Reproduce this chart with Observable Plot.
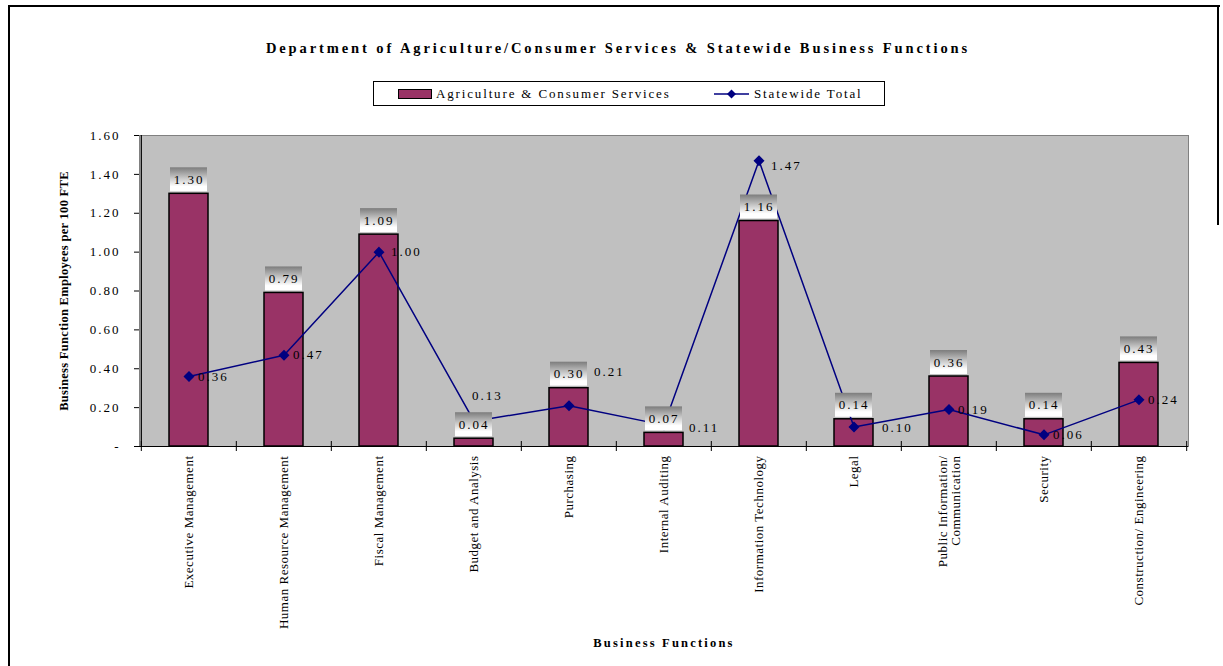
<!DOCTYPE html>
<html><head><meta charset="utf-8">
<script src="https://cdn.jsdelivr.net/npm/d3@7"></script>
<script src="https://cdn.jsdelivr.net/npm/@observablehq/plot@0.6"></script>
<style>
body{margin:0;background:#fff;font-family:"Liberation Serif",serif;}
#wrap{position:relative;width:1223px;height:666px;overflow:hidden;background:#fff;}
#border{position:absolute;left:8px;top:5px;width:1210px;height:700px;border-left:2px solid #000;border-top:2px solid #000;pointer-events:none;}
#rborder{position:absolute;left:1217px;top:5px;width:2px;height:220px;background:#000;}
#title{position:absolute;left:0;width:1236px;top:40px;text-align:center;font-weight:bold;font-size:14.5px;letter-spacing:2.9px;color:#000;white-space:nowrap;}
#legend{position:absolute;left:373px;top:81px;width:512px;height:25px;box-sizing:border-box;border:1px solid #000;background:#fff;font-size:13px;letter-spacing:1.85px;}
#legend .sw{position:absolute;left:24px;top:7px;width:34px;height:10px;box-sizing:border-box;background:#993366;border:1px solid #000;}
#legend .t1{position:absolute;left:62px;top:4px;white-space:nowrap;}
#legend svg{position:absolute;left:340px;top:5px;}
#legend .t2{position:absolute;left:380px;top:4px;white-space:nowrap;}
#chart{position:absolute;left:0;top:120px;}
</style>
</head><body>
<div id="wrap">
  <div id="title">Department of Agriculture/Consumer Services &amp; Statewide Business Functions</div>
  <div id="legend">
    <span class="sw"></span><span class="t1">Agriculture &amp; Consumer Services</span>
    <svg width="36" height="14"><line x1="0" y1="7" x2="35" y2="7" stroke="#000080" stroke-width="1.5"/><path d="M17.5,2.5 L22,7 L17.5,11.5 L13,7 Z" fill="#000080"/></svg>
    <span class="t2">Statewide Total</span>
  </div>
  <div id="chart"></div>
  <div id="border"></div>
  <div id="rborder"></div>
</div>
<script>
// ---- data ----
const categories = [
  "Executive Management",
  "Human Resource Management",
  "Fiscal Management",
  "Budget and Analysis",
  "Purchasing",
  "Internal Auditing",
  "Information Technology",
  "Legal",
  "Public Information/\nCommunication",
  "Security",
  "Construction/ Engineering"
];
const agriculture = [1.30, 0.79, 1.09, 0.04, 0.30, 0.07, 1.16, 0.14, 0.36, 0.14, 0.43];
const statewide   = [0.36, 0.47, 1.00, 0.13, 0.21, 0.11, 1.47, 0.10, 0.19, 0.06, 0.24];
const yTicks = [0, 0.2, 0.4, 0.6, 0.8, 1.0, 1.2, 1.4, 1.6];
const yTickLabels = ["-", "0.20", "0.40", "0.60", "0.80", "1.00", "1.20", "1.40", "1.60"];
const yLabel = "Business Function Employees per 100 FTE";
const xLabel = "Business Functions";

// ---- layout ----
const W = 1223, H = 546, mL = 139, mR = 35, mT = 15, mB = 220;
const bw = (W - mL - mR) / categories.length;
const rows = categories.map((c, i) => ({c, a: agriculture[i], s: statewide[i]}));
// label nudges (pixels) for statewide labels that were moved in the original
const lineLabelOffset = {
  "Budget and Analysis": [-2, -25],
  "Purchasing": [25, -34],
  "Internal Auditing": [25, 3],
  "Legal": [28, 1],
  "Information Technology": [12, 5],
  "Fiscal Management": [12, 0]
};
const fmt = v => v.toFixed(2);

const lineLabels = rows.map(r => {
  const [dx, dy] = lineLabelOffset[r.c] || [9, 0];
  return Plot.text([r], {x: "c", y: "s", text: d => fmt(d.s), dx, dy, textAnchor: "start", fontSize: 13, fill: "#000"});
});

const chart = Plot.plot({
  width: W, height: H,
  marginLeft: mL, marginRight: mR, marginTop: mT, marginBottom: mB,
  style: {fontFamily: "Liberation Serif", fontSize: "13px", background: "transparent", overflow: "visible", color: "#000"},
  x: {type: "band", domain: categories, padding: 0, axis: null},
  y: {domain: [0, 1.6]},
  marks: [
    Plot.frame({fill: "#c0c0c0", stroke: "#808080"}),
    Plot.barY(rows, {x: "c", y: "a", fill: "#993366", stroke: "#000", strokeWidth: 1.5, insetLeft: 28, insetRight: 28}),
    Plot.line(rows, {x: "c", y: "s", stroke: "#000080", strokeWidth: 1.5}),
    Plot.dot(rows, {x: "c", y: "s", symbol: "diamond2", r: 4, fill: "#000080", stroke: "#000080"}),
    ...lineLabels,
    Plot.barY(rows, {x: "c", y1: "a", y2: "a", fill: "url(#lblgrad)", insetLeft: 29, insetRight: 29, insetTop: -26, insetBottom: 2}),
    Plot.text(rows, {x: "c", y: "a", text: d => fmt(d.a), dy: -14, fontSize: 13, fill: "#000"}),
    Plot.ruleY([0], {stroke: "#000", strokeWidth: 1.2}),
    Plot.ruleX([categories[0]], {dx: -bw / 2, stroke: "#000", strokeWidth: 1.2}),
    Plot.ruleX(categories, {y1: 0, y2: 0, dx: -bw / 2, insetTop: -5, insetBottom: -5, stroke: "#000"}),
    Plot.ruleX([categories[categories.length - 1]], {y1: 0, y2: 0, dx: bw / 2, insetTop: -5, insetBottom: -5, stroke: "#000"}),
    Plot.axisY(yTicks, {tickSize: 5, tickPadding: 14, tickFormat: d => yTickLabels[yTicks.indexOf(d)], label: null, fontSize: 13, stroke: "#000"}),
    Plot.text(categories, {x: d => d, frameAnchor: "bottom", rotate: -90, textAnchor: "end", lineAnchor: "middle", dy: 9, fontSize: 13, fill: "#000"}),
    Plot.text([yLabel], {frameAnchor: "left", rotate: -90, textAnchor: "middle", lineAnchor: "middle", dx: -76, fontSize: 12.5, fontWeight: "bold", fill: "#000"}),
    Plot.text([xLabel], {frameAnchor: "bottom", textAnchor: "middle", lineAnchor: "middle", dy: 196, fontSize: 12.5, fontWeight: "bold", fill: "#000"})
  ]
});

const svg = d3.select(chart);
const grad = svg.insert("defs", ":first-child").append("linearGradient")
  .attr("id", "lblgrad").attr("x1", 0).attr("y1", 0).attr("x2", 0).attr("y2", 1);
grad.append("stop").attr("offset", "0%").attr("stop-color", "#7c7c7c");
grad.append("stop").attr("offset", "45%").attr("stop-color", "#c8c8c8");
grad.append("stop").attr("offset", "80%").attr("stop-color", "#ffffff");
grad.append("stop").attr("offset", "100%").attr("stop-color", "#ffffff");

// letter spacing to mimic the original typesetting
svg.selectAll("text").each(function() {
  const t = this.textContent;
  if (/^[\d.\-]+$/.test(t)) d3.select(this).style("letter-spacing", "2px");
  else if (t === xLabel) d3.select(this).style("letter-spacing", "2.2px");
  else if (t === yLabel) d3.select(this).style("letter-spacing", "0.3px");
  else d3.select(this).style("letter-spacing", "0.5px");
});

document.getElementById("chart").appendChild(chart);
</script>
</body></html>
